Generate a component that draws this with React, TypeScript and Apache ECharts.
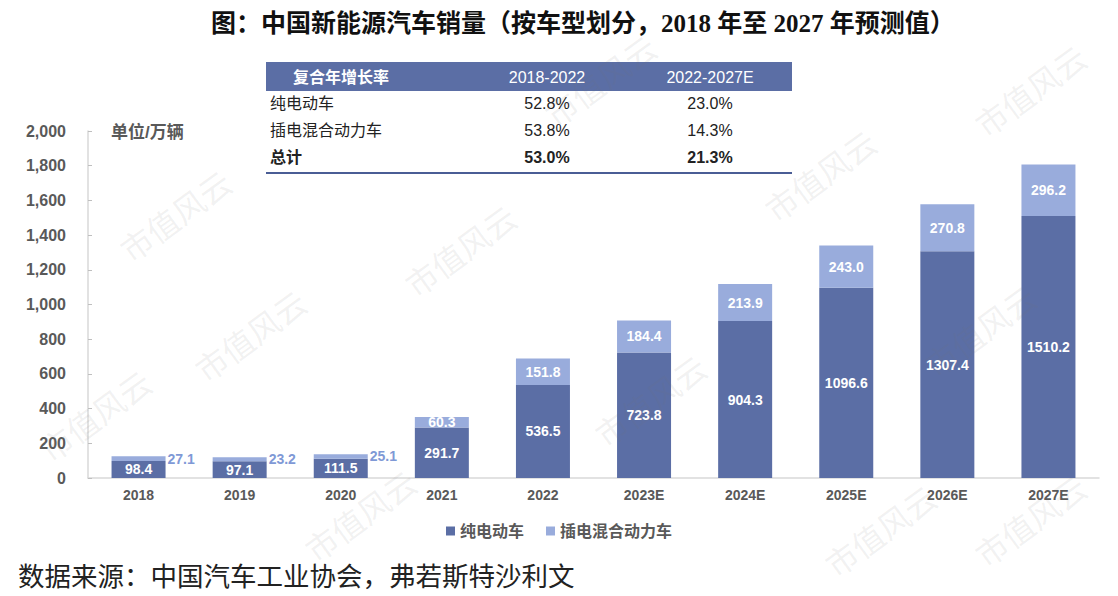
import React, { useEffect, useRef } from "react";
import * as echarts from "echarts";

const categories = ["2018", "2019", "2020", "2021", "2022", "2023E", "2024E", "2025E", "2026E", "2027E"];
const bevSales = [98.4, 97.1, 111.5, 291.7, 536.5, 723.8, 904.3, 1096.6, 1307.4, 1510.2];
const phevSales = [27.1, 23.2, 25.1, 60.3, 151.8, 184.4, 213.9, 243.0, 270.8, 296.2];
const seriesNames = ["纯电动车", "插电混合动力车"];

const tableHeader = ["复合年增长率", "2018-2022", "2022-2027E"];
const tableRows = [
  ["纯电动车", "52.8%", "23.0%"],
  ["插电混合动力车", "53.8%", "14.3%"],
  ["总计", "53.0%", "21.3%"],
];

const titleText = "图：中国新能源汽车销量（按车型划分，2018 年至 2027 年预测值）";
const sourceText = "数据来源：中国汽车工业协会，弗若斯特沙利文";
const unitText = "单位/万辆";
const watermarkText = "市值风云";

const DARK = "#5b6ea5";
const LIGHT = "#99acdc";
const SANS = "Arial, 'Liberation Sans', 'Noto Sans CJK SC', sans-serif";
const SERIF = "'Times New Roman', 'Liberation Serif', 'Noto Sans CJK SC', serif";

export default function App() {
  const ref = useRef<HTMLDivElement>(null);

  useEffect(() => {
    if (!ref.current) return;
    const chart = echarts.init(ref.current, undefined, { renderer: "svg" });

    const colX = [270, 547, 710];
    const rowY = [103, 130, 157];

    const tableGraphics: any[] = [
      { type: "rect", shape: { x: 266, y: 62, width: 526, height: 29 }, style: { fill: DARK } },
      {
        type: "text", x: 341, y: 77,
        style: { text: tableHeader[0], fill: "#ffffff", font: `bold 16px ${SANS}`, align: "center", verticalAlign: "middle" },
      },
      {
        type: "text", x: colX[1], y: 77,
        style: { text: tableHeader[1], fill: "#ffffff", font: `16px ${SANS}`, align: "center", verticalAlign: "middle" },
      },
      {
        type: "text", x: colX[2], y: 77,
        style: { text: tableHeader[2], fill: "#ffffff", font: `16px ${SANS}`, align: "center", verticalAlign: "middle" },
      },
      { type: "line", shape: { x1: 266, y1: 173, x2: 792, y2: 173 }, style: { stroke: "#4a5d95", lineWidth: 2 } },
    ];
    tableRows.forEach((row, r) => {
      const bold = r === tableRows.length - 1 ? "bold " : "";
      row.forEach((cell, c) => {
        tableGraphics.push({
          type: "text",
          x: colX[c],
          y: rowY[r],
          style: {
            text: cell,
            fill: "#222222",
            font: `${bold}16px ${SANS}`,
            align: c === 0 ? "left" : "center",
            verticalAlign: "middle",
          },
        });
      });
    });

    // faint diagonal watermark stamps
    const marks = [
      [175, 215], [250, 335], [95, 415], [600, 80], [820, 175], [650, 400],
      [1030, 90], [980, 330], [360, 515], [880, 530], [460, 250], [1030, 520],
    ];
    const watermarkGraphics = marks.map(([x, y]) => ({
      type: "text",
      x, y,
      rotation: Math.PI / 5,
      z: 100,
      silent: true,
      style: {
        text: watermarkText,
        fill: "rgba(120,120,120,0.10)",
        font: `32px 'Noto Sans CJK SC', sans-serif`,
        align: "center",
        verticalAlign: "middle",
      },
    }));

    chart.setOption({
      animation: false,
      backgroundColor: "#ffffff",
      title: {
        text: titleText,
        left: 206,
        top: 6,
        textStyle: { fontFamily: SERIF, fontSize: 25, fontWeight: "bold", color: "#111111" },
      },
      grid: { left: 88, right: 19, top: 131, bottom: 118 },
      legend: {
        data: seriesNames,
        left: "center",
        top: 518,
        icon: "rect",
        itemWidth: 9,
        itemHeight: 9,
        itemGap: 22,
        textStyle: { fontFamily: SANS, fontSize: 16, fontWeight: "bold", color: "#595959" },
      },
      xAxis: {
        type: "category",
        data: categories,
        axisLine: { lineStyle: { color: "#d9d9d9", width: 1.5 } },
        axisTick: { show: false },
        axisLabel: { margin: 10, fontFamily: SANS, fontSize: 14, fontWeight: "bold", color: "#595959" },
      },
      yAxis: {
        type: "value",
        min: 0,
        max: 2000,
        interval: 200,
        splitLine: { show: false },
        axisLine: { show: true, lineStyle: { color: "#d9d9d9", width: 1.5 } },
        axisTick: { show: true, inside: true, length: 4, lineStyle: { color: "#bfbfbf" } },
        axisLabel: {
          margin: 22,
          fontFamily: SANS,
          fontSize: 16,
          fontWeight: "bold",
          color: "#595959",
          formatter: (v: number) => v.toLocaleString("en-US"),
        },
      },
      series: [
        {
          name: seriesNames[0],
          type: "bar",
          stack: "total",
          barWidth: 54,
          data: bevSales,
          itemStyle: { color: DARK },
          label: {
            show: true,
            position: "inside",
            color: "#ffffff",
            fontFamily: SANS,
            fontSize: 14,
            fontWeight: "bold",
            formatter: (p: any) => p.value.toFixed(1),
          },
        },
        {
          name: seriesNames[1],
          type: "bar",
          stack: "total",
          barWidth: 54,
          itemStyle: { color: LIGHT },
          data: phevSales.map((v, i) =>
            i < 3
              ? {
                  value: v,
                  label: { position: "right", distance: 2, color: "#7f99d6" },
                }
              : v
          ),
          label: {
            show: true,
            position: "inside",
            color: "#ffffff",
            fontFamily: SANS,
            fontSize: 14,
            fontWeight: "bold",
            formatter: (p: any) => p.value.toFixed(1),
          },
        },
      ],
      graphic: [
        ...tableGraphics,
        {
          type: "text",
          x: 111,
          y: 132,
          style: { text: unitText, fill: "#595959", font: `bold 17px ${SANS}`, verticalAlign: "middle" },
        },
        {
          type: "text",
          x: 18,
          y: 577,
          style: { text: sourceText, fill: "#222222", font: `26.5px ${SERIF}`, verticalAlign: "middle" },
        },
        ...watermarkGraphics,
      ],
    });

    return () => chart.dispose();
  }, []);

  return (
    <div
      ref={ref}
      style={{ position: "fixed", left: 0, top: 0, width: 1118, height: 596 }}
    />
  );
}
